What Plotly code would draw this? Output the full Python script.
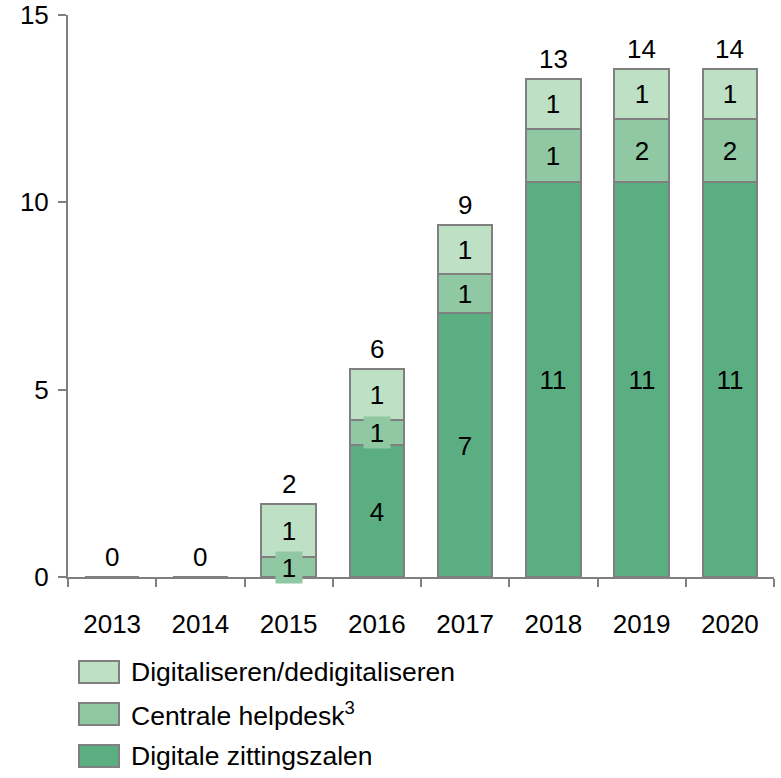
import plotly.graph_objects as go

years = ["2013", "2014", "2015", "2016", "2017", "2018", "2019", "2020"]
digitale_zittingszalen = [0, 0, 0, 3.52, 7.04, 10.55, 10.55, 10.55]
centrale_helpdesk = [0, 0, 0.53, 0.66, 1.06, 1.41, 1.68, 1.68]
digitaliseren = [0, 0, 1.42, 1.37, 1.30, 1.33, 1.33, 1.33]
series_names = ["Digitale zittingszalen", "Centrale helpdesk<sup>3</sup>", "Digitaliseren/dedigitaliseren"]
y_ticks = [0, 5, 10, 15]

colors = ["#5AAE82", "#8FC8A2", "#BEE0C5"]
border = "#808080"
FONT = "Liberation Sans, Arial, sans-serif"
FS = 26

series = [digitale_zittingszalen, centrale_helpdesk, digitaliseren]

fig = go.Figure()
for vals, name, col in zip(series, series_names, colors):
    fig.add_trace(go.Bar(
        x=years, y=vals, name=name,
        marker=dict(color=col, line=dict(color=border, width=2)),
        showlegend=False, hoverinfo="skip",
    ))

annotations = []
# segment labels (x given as category index)
base = [0.0] * len(years)
for vals, col in zip(series, colors):
    for i, v in enumerate(vals):
        if v > 0:
            annotations.append(dict(
                x=i, y=base[i] + v / 2, xref="x", yref="y",
                text=f"{v:.0f}", showarrow=False,
                font=dict(family=FONT, size=FS, color="#000000"),
                bgcolor=col, width=26, height=31, borderpad=0,
                yanchor="middle", xanchor="center",
            ))
        base[i] += v

# totals
for i, t in enumerate(base):
    annotations.append(dict(
        x=i, y=t, xref="x", yref="y",
        text=f"{t:.0f}", showarrow=False,
        font=dict(family=FONT, size=FS, color="#000000"),
        yanchor="middle", yshift=20,
    ))

# manual legend
W, H = 706.0, 562.0
PX0, PY0 = 68, 577  # pixel coords of plot left / bottom
legend_order = [2, 1, 0]
row_centers = [672, 714, 756]
shapes = []
for row, idx in enumerate(legend_order):
    cy = row_centers[row]
    shapes.append(dict(
        type="rect", xref="paper", yref="paper",
        x0=(79 - PX0) / W, x1=(119 - PX0) / W,
        y0=(PY0 - (cy + 11)) / H, y1=(PY0 - (cy - 11)) / H,
        fillcolor=colors[idx], line=dict(color=border, width=2),
    ))
    annotations.append(dict(
        x=(129 - PX0) / W, y=(PY0 - cy) / H, xref="paper", yref="paper",
        text=series_names[idx], showarrow=False, xanchor="left", yanchor="middle",
        font=dict(family=FONT, size=26.5, color="#000000"),
    ))

fig.update_layout(
    barmode="stack",
    bargap=0.385,
    width=781, height=778,
    margin=dict(l=68, r=7, t=15, b=201, autoexpand=False),
    plot_bgcolor="white", paper_bgcolor="white",
    font=dict(family=FONT, size=FS, color="#000000"),
    annotations=annotations,
    shapes=shapes,
    showlegend=False,
    hovermode=False,
)
fig.update_xaxes(
    type="category", range=[-0.5, 7.5], automargin=False,
    showline=True, linecolor=border, linewidth=2,
    ticks="outside", tickson="boundaries", ticklen=8, tickwidth=2, tickcolor=border,
    showgrid=False, tickfont=dict(family=FONT, size=FS, color="#000000"),
    ticklabelstandoff=23,
)
fig.update_yaxes(
    range=[0, 15], tickvals=y_ticks, automargin=False,
    showline=True, linecolor=border, linewidth=2,
    ticks="outside", ticklen=8, tickwidth=2, tickcolor=border,
    showgrid=False, zeroline=False, ticklabelstandoff=4,
    ticklabeloverflow="allow",
    tickfont=dict(family=FONT, size=FS, color="#000000"),
)

fig.write_html(
    "out.html",
    config={"displayModeBar": False, "staticPlot": True},
    post_script="document.body.style.margin='0';document.body.style.overflow='hidden';",
)
